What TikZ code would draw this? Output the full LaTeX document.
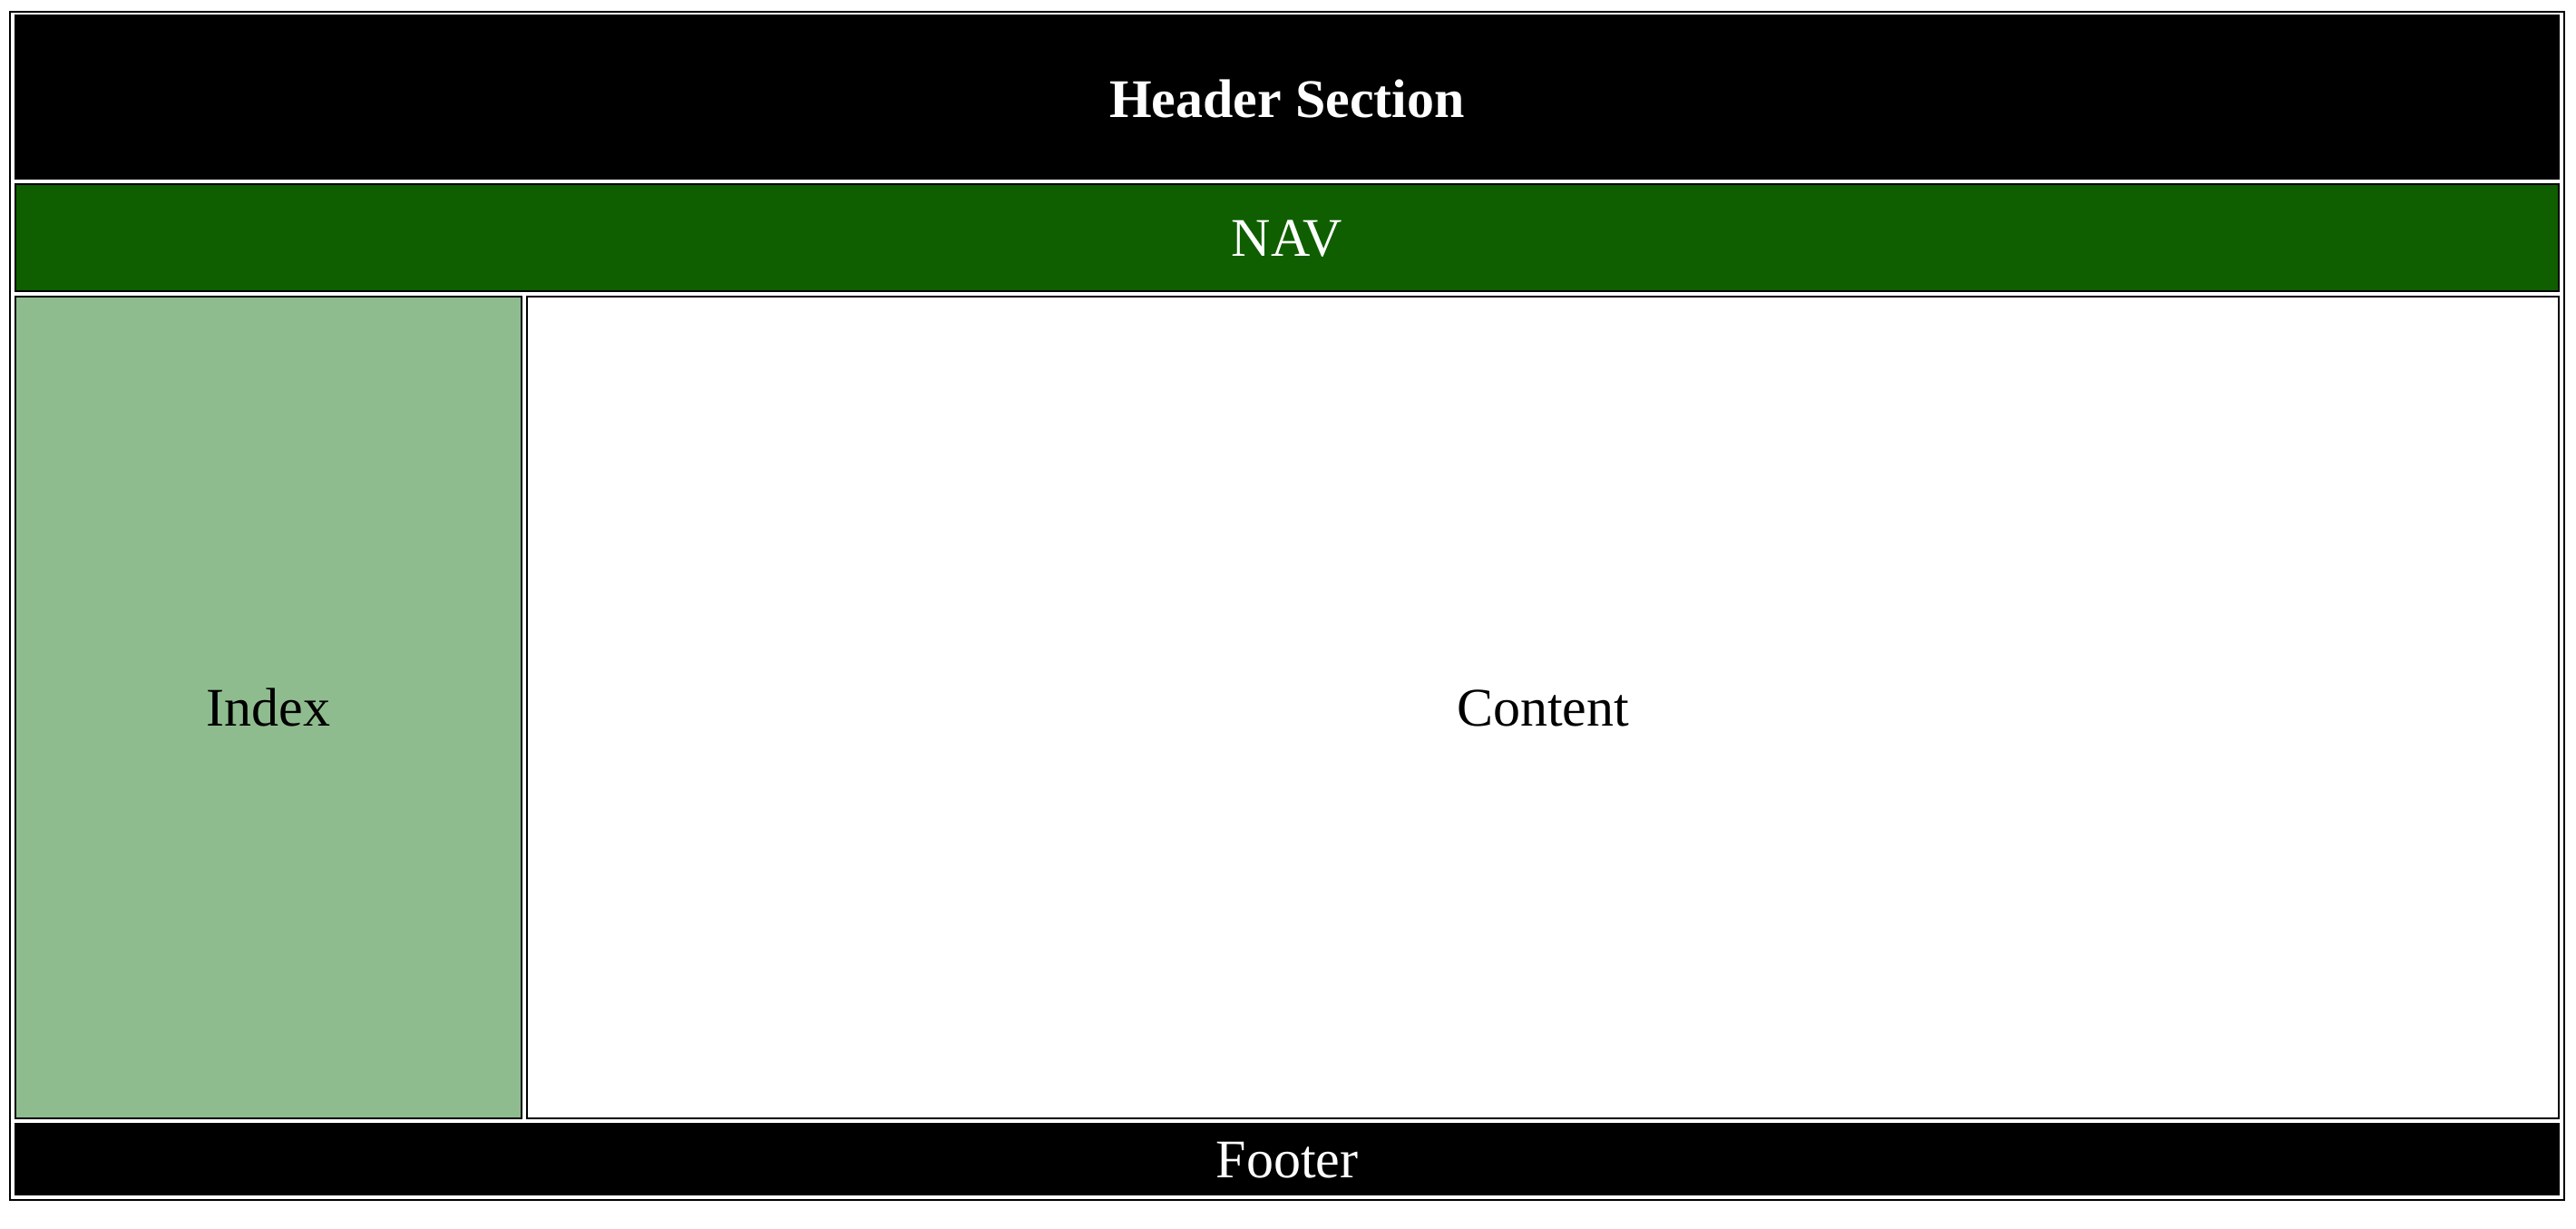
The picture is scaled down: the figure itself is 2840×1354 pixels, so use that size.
\documentclass[tikz,border=0pt]{standalone}
\usepackage{fontspec}
\setmainfont{Liberation Serif}
\definecolor{navgreen}{HTML}{0F5F00}
\definecolor{indexgreen}{HTML}{8FBC8F}
\begin{document}
\begin{tikzpicture}[x=0.5pt,y=-0.5pt,
  cell/.style={draw=black,line width=1pt,rectangle,inner sep=0pt,outer sep=0pt},
  celltext/.style={inner sep=0pt,anchor=base,font=\fontsize{30}{36}\selectfont}]
\path[use as bounding box,fill=white] (0,0) rectangle (2840,1354);
\node[cell,fill=white,minimum width=1408pt,minimum height=655pt] (table) at (1419,668) {};
\node[cell,fill=black,minimum width=1402pt,minimum height=90pt] (header) at (1419,107) {};
\node[cell,fill=navgreen,minimum width=1402pt,minimum height=59pt] (nav) at (1419,262) {};
\node[cell,fill=indexgreen,minimum width=279pt,minimum height=453pt] (index) at (296,780) {};
\node[cell,fill=white,minimum width=1120pt,minimum height=453pt] (content) at (1701,780) {};
\node[cell,fill=black,minimum width=1402pt,minimum height=39pt] (footer) at (1419,1278) {};
\node[celltext,text=white,font=\fontsize{30}{36}\selectfont\bfseries] (headert) at ([yshift=-11pt]header.center) {Header Section};
\node[celltext,text=white] (navt) at ([yshift=-10.3pt]nav.center) {NAV};
\node[celltext,text=black] (indext) at ([yshift=-10pt]index.center) {Index};
\node[celltext,text=black] (contentt) at ([yshift=-10pt]content.center) {Content};
\node[celltext,text=white] (footert) at ([yshift=-10.3pt]footer.center) {Footer};
\end{tikzpicture}
\end{document}
